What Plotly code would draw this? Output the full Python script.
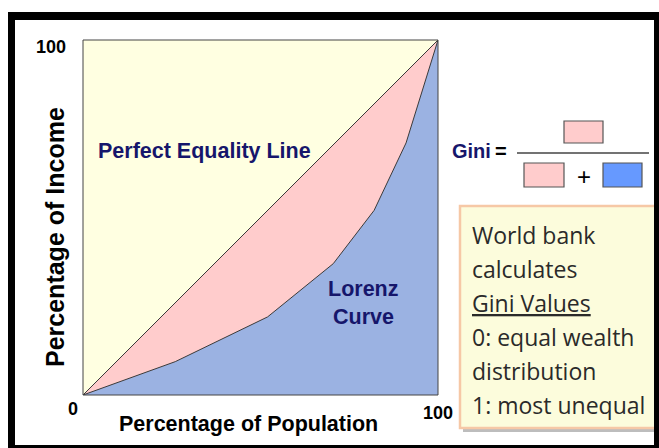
import plotly.graph_objects as go

# ---- data ----
population_pct = [0, 26, 52, 70.5, 82, 91, 100]
income_pct = [0, 9.4, 22, 37, 52, 71, 100]
equality_x = [0, 100]
equality_y = [0, 100]
axis_tick_labels = ["0", "100"]
note_lines = ["World bank", "calculates", "<u>Gini Values</u>", "0: equal wealth",
              "distribution", "1: most unequal"]

W, H = 659, 448
L, R, T, B = 83, 438, 40, 395


def px(x):
    return (x - L) / (R - L)


def py(y):
    return (B - y) / (B - T)


fig = go.Figure()
fig.add_trace(go.Scatter(x=equality_x, y=equality_y, mode="lines", fill="tozeroy",
                         fillcolor="#FFCCCC", line=dict(color="#3a3a3a", width=1),
                         hoverinfo="skip"))
fig.add_trace(go.Scatter(x=population_pct, y=income_pct, mode="lines", fill="tozeroy",
                         fillcolor="#9BB2E2", line=dict(color="#3a3a3a", width=1),
                         hoverinfo="skip"))

shapes = []
# plot frame
shapes.append(dict(type="rect", xref="paper", yref="paper", x0=0, x1=1, y0=0, y1=1,
                   line=dict(color="#444444", width=1), fillcolor="rgba(0,0,0,0)"))
# Gini formula
def box(x0, y0, x1, y1, fill):
    shapes.append(dict(type="rect", xref="paper", yref="paper", x0=px(x0), x1=px(x1),
                       y0=py(y1), y1=py(y0), line=dict(color="#555555", width=1.2), fillcolor=fill))

box(564, 121, 603, 143, "#FFCCCC")
box(524, 163, 564, 187, "#FFCCCC")
box(603, 163, 642, 187, "#6699FF")
shapes.append(dict(type="line", xref="paper", yref="paper", x0=px(517), x1=px(649),
                   y0=py(153), y1=py(153), line=dict(color="#444444", width=1.5)))
# note box shadow + box
shapes.append(dict(type="rect", xref="paper", yref="paper", x0=px(463), x1=px(660),
                   y0=py(432), y1=py(209), line=dict(width=0), fillcolor="#bdbdbd"))
shapes.append(dict(type="rect", xref="paper", yref="paper", x0=px(460), x1=px(660),
                   y0=py(428), y1=py(206), line=dict(color="#F6C8A6", width=2.5),
                   fillcolor="#FCFCDC"))
# outer black frame
for (x0, y0, x1, y1) in [(8, 12, 659, 20), (8, 12, 15, 448), (654, 12, 659, 448), (8, 445, 659, 448)]:
    shapes.append(dict(type="rect", xref="paper", yref="paper", x0=px(x0), x1=px(x1),
                       y0=py(y1), y1=py(y0), line=dict(width=0), fillcolor="black", layer="above"))

navy = "#16166B"
ann = []
def text(x, y, s, size, color="black", bold=True, family="Liberation Sans, Arial", xanchor="center", angle=0):
    ann.append(dict(x=px(x), y=py(y), xref="paper", yref="paper", text=(f"<b>{s}</b>" if bold else s),
                    showarrow=False, xanchor=xanchor, yanchor="middle", textangle=angle,
                    font=dict(family=family, size=size, color=color)))

text(51, 47, axis_tick_labels[1], 18)
text(73, 409, axis_tick_labels[0], 18)
text(438, 413, axis_tick_labels[1], 18)
text(248, 424, "Percentage of Population", 21.5)
text(55, 237, "Percentage of Income", 25, angle=-90)
text(204, 151, "Perfect Equality Line", 21.5, color=navy)
text(363, 289, "Lorenz", 21.5, color=navy)
text(363, 317, "Curve", 21.5, color=navy)
text(471, 151, "Gini", 20, color=navy)
text(501, 151, "=", 20, color="black")
text(584, 176, "+", 24, color="black", bold=False)

baselines = [243, 277, 311, 345, 379, 413]
for s, b in zip(note_lines, baselines):
    text(470, b - 8, s, 23, color="#2a2a2a", bold=False, family="Open Sans", xanchor="left")

fig.update_layout(
    width=W, height=H, margin=dict(l=L, r=W - R, t=T, b=H - B, pad=0),
    paper_bgcolor="white", plot_bgcolor="#FFFFE1", showlegend=False,
    xaxis=dict(range=[0, 100], visible=False, fixedrange=True),
    yaxis=dict(range=[0, 100], visible=False, fixedrange=True),
    shapes=shapes, annotations=ann, hovermode=False,
)
fig.write_html("out.html", config={"displayModeBar": False},
               post_script="document.body.style.margin='0px';")
